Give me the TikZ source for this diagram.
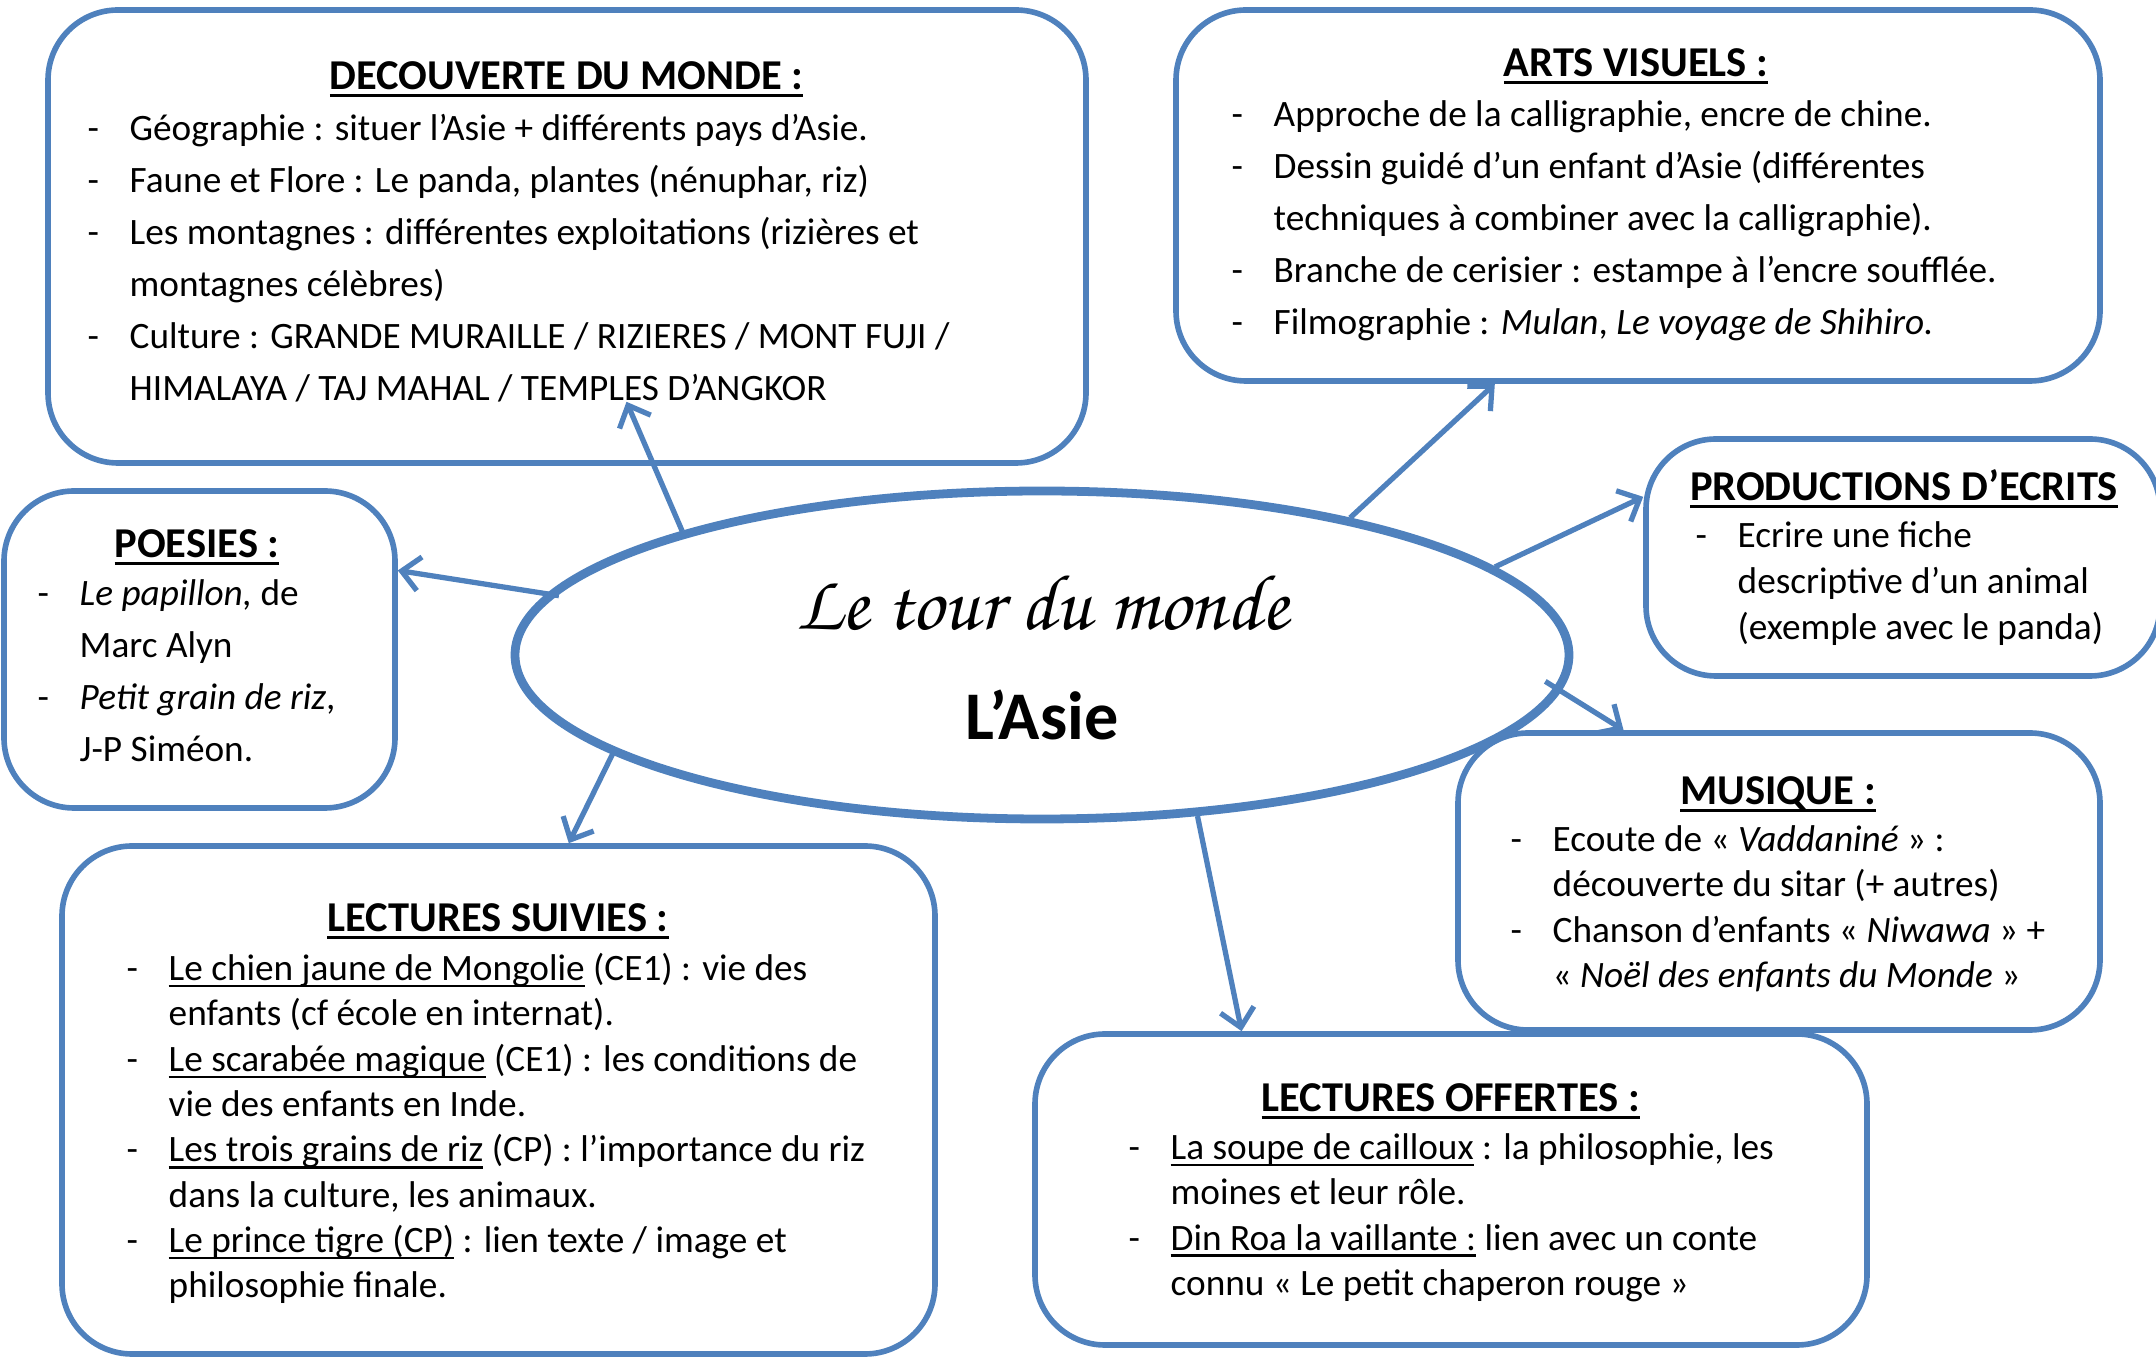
\documentclass[tikz,border=0pt]{standalone}
\usepackage{fontspec}
\setmainfont{Carlito}
\newfontfamily\ecriture{texgyrechorus-mediumitalic.otf}
\usetikzlibrary{shapes.geometric,arrows.meta,calc}

\definecolor{bleu}{HTML}{4F81BD}

\tikzstyle{bloc}=[rectangle,draw=bleu,line width=1.6pt,rounded corners=7mm]
\tikzstyle{titre}=[anchor=base,inner sep=0pt,font=\fontsize{12.1}{14}\selectfont\bfseries]
\tikzstyle{liste}=[anchor=base west,inner sep=0pt,align=left,font=\fontsize{10.6}{14.8}\selectfont]
\tikzstyle{serre}=[font=\fontsize{10.6}{12.9}\selectfont]
\tikzstyle{fleche}=[->,draw=bleu,line width=1.5pt]

\newcommand{\tiret}{\makebox[4.2mm][l]{-}}
\newcommand{\suite}{\hspace*{4.2mm}}
\newsavebox{\boitesoul}
\newcommand{\souligne}[1]{\sbox{\boitesoul}{#1}\rlap{\rule[-1.9pt]{\wd\boitesoul}{0.7pt}}\usebox{\boitesoul}}

\begin{document}
\begin{tikzpicture}[x=0.1mm,y=-0.1mm,>={Straight Barb[length=1.8mm,width=3.4mm]}]
	\useasboundingbox (0,0) rectangle (2156,1359);
	\clip (0,0) rectangle (2156,1359);

	% Centre
	\node[ellipse,draw=bleu,line width=2.5pt,minimum width=105.4mm,minimum height=32.8mm] (asie) at (1042,655) {};
	\node[font=\ecriture\fontsize{22.5}{24}\selectfont] (tour) at (1042,603) {Le tour du monde};
	\node[font=\fontsize{19.4}{22}\selectfont\bfseries] (nom) at (1042,715) {L’Asie};

	% Blocs
	\node[bloc,minimum width=103.8mm,minimum height=45.3mm] (decouverte) at (567,236.5) {};
	\node[bloc,minimum width=92.4mm,minimum height=37.1mm] (arts) at (1638,195.5) {};
	\node[bloc,minimum width=39.1mm,minimum height=31.7mm] (poesies) at (199.5,649.5) {};
	\node[bloc,minimum width=51.4mm,minimum height=23.7mm] (productions) at (1903,557.5) {};
	\node[bloc,minimum width=64.2mm,minimum height=29.7mm] (musique) at (1779,881.5) {};
	\node[bloc,minimum width=87.3mm,minimum height=50.8mm] (suivies) at (498.5,1100) {};
	\node[bloc,minimum width=83.2mm,minimum height=31.1mm] (offertes) at (1451,1189.5) {};

	% Decouverte du monde
	\node[titre] (decTitre) at (566.5,90) {\souligne{DECOUVERTE DU MONDE :}};
	\node[liste] (decListe) at (87,400.5) {\tiret Géographie : situer l’Asie + différents pays d’Asie.\\
		\tiret Faune et Flore : Le panda, plantes (nénuphar, riz)\\
		\tiret Les montagnes : différentes exploitations (rizières et\\
		\suite montagnes célèbres)\\
		\tiret Culture : GRANDE MURAILLE / RIZIERES / MONT FUJI /\\
		\suite HIMALAYA / TAJ MAHAL / TEMPLES D’ANGKOR};

	% Arts visuels
	\node[titre] (artsTitre) at (1636,77) {\souligne{ARTS VISUELS :}};
	\node[liste] (artsListe) at (1231,334.5) {\tiret Approche de la calligraphie, encre de chine.\\
		\tiret Dessin guidé d’un enfant d’Asie (différentes\\
		\suite techniques à combiner avec la calligraphie).\\
		\tiret Branche de cerisier : estampe à l’encre soufflée.\\
		\tiret Filmographie : \textit{Mulan}, \textit{Le voyage de Shihiro.}};

	% Poesies
	\node[titre] (poeTitre) at (197,558) {\souligne{POESIES :}};
	\node[liste] (poeListe) at (37,762) {\tiret \textit{Le papillon,} de\\
		\suite Marc Alyn\\
		\tiret \textit{Petit grain de riz},\\
		\suite J-P Siméon.};

	% Productions d'ecrits
	\node[titre] (prodTitre) at (1904,501) {\souligne{PRODUCTIONS D’ECRITS}};
	\node[liste,font=\fontsize{10.6}{13.1}\selectfont] (prodListe) at (1695,640) {\tiret Ecrire une fiche\\
		\suite descriptive d’un animal\\
		\suite (exemple avec le panda)};

	% Musique
	\node[titre] (musTitre) at (1778,805) {\souligne{MUSIQUE :}};
	\node[liste,serre] (musListe) at (1510,987.6) {\tiret Ecoute de « \textit{Vaddaniné} » :\\
		\suite découverte du sitar (+ autres)\\
		\tiret Chanson d’enfants « \textit{Niwawa} » +\\
		\suite « \textit{Noël des enfants du Monde} »};

	% Lectures suivies
	\node[titre] (suiTitre) at (498,932) {\souligne{LECTURES SUIVIES :}};
	\node[liste,serre] (suiListe) at (126,1298) {\tiret \souligne{Le chien jaune de Mongolie} (CE1) : vie des\\
		\suite enfants (cf école en internat).\\
		\tiret \souligne{Le scarabée magique} (CE1) : les conditions de\\
		\suite vie des enfants en Inde.\\
		\tiret \souligne{Les trois grains de riz} (CP) : l’importance du riz\\
		\suite dans la culture, les animaux.\\
		\tiret \souligne{Le prince tigre (CP)} : lien texte / image et\\
		\suite philosophie finale.};

	% Lectures offertes
	\node[titre] (offTitre) at (1451,1112) {\souligne{LECTURES OFFERTES :}};
	\node[liste,serre] (offListe) at (1128,1295.6) {\tiret \souligne{La soupe de cailloux} : la philosophie, les\\
		\suite moines et leur rôle.\\
		\tiret \souligne{Din Roa la vaillante :} lien avec un conte\\
		\suite connu « Le petit chaperon rouge »};

	% Fleches
	\coordinate (decPointe) at ($(decouverte.south west)!0.557!(decouverte.south east)+(0,-64)$);
	\draw[fleche] (asie.161.5) -- (decPointe);
	\draw[fleche] ($(asie.center)!0.975!(asie.173.3)$) -- ($(poesies.north east)!0.255!(poesies.south east)$);
	\draw[fleche] (asie.193.5) -- ($(suivies.north west)!0.58!(suivies.north east)$);
	\draw[fleche] (asie.314.3) -- ($(offertes.north west)!0.25!(offertes.north east)$);
	\draw[fleche] ($(asie.center)!0.96!(asie.357)$) -- ($(musique.north west)!0.26!(musique.north east)$);
	\draw[fleche] (asie.11) -- ($(productions.north west)!0.25!(productions.south west)$);
	\draw[fleche] (asie.24.6) -- ($(arts.south west)!0.346!(arts.south east)$);
\end{tikzpicture}
\end{document}
